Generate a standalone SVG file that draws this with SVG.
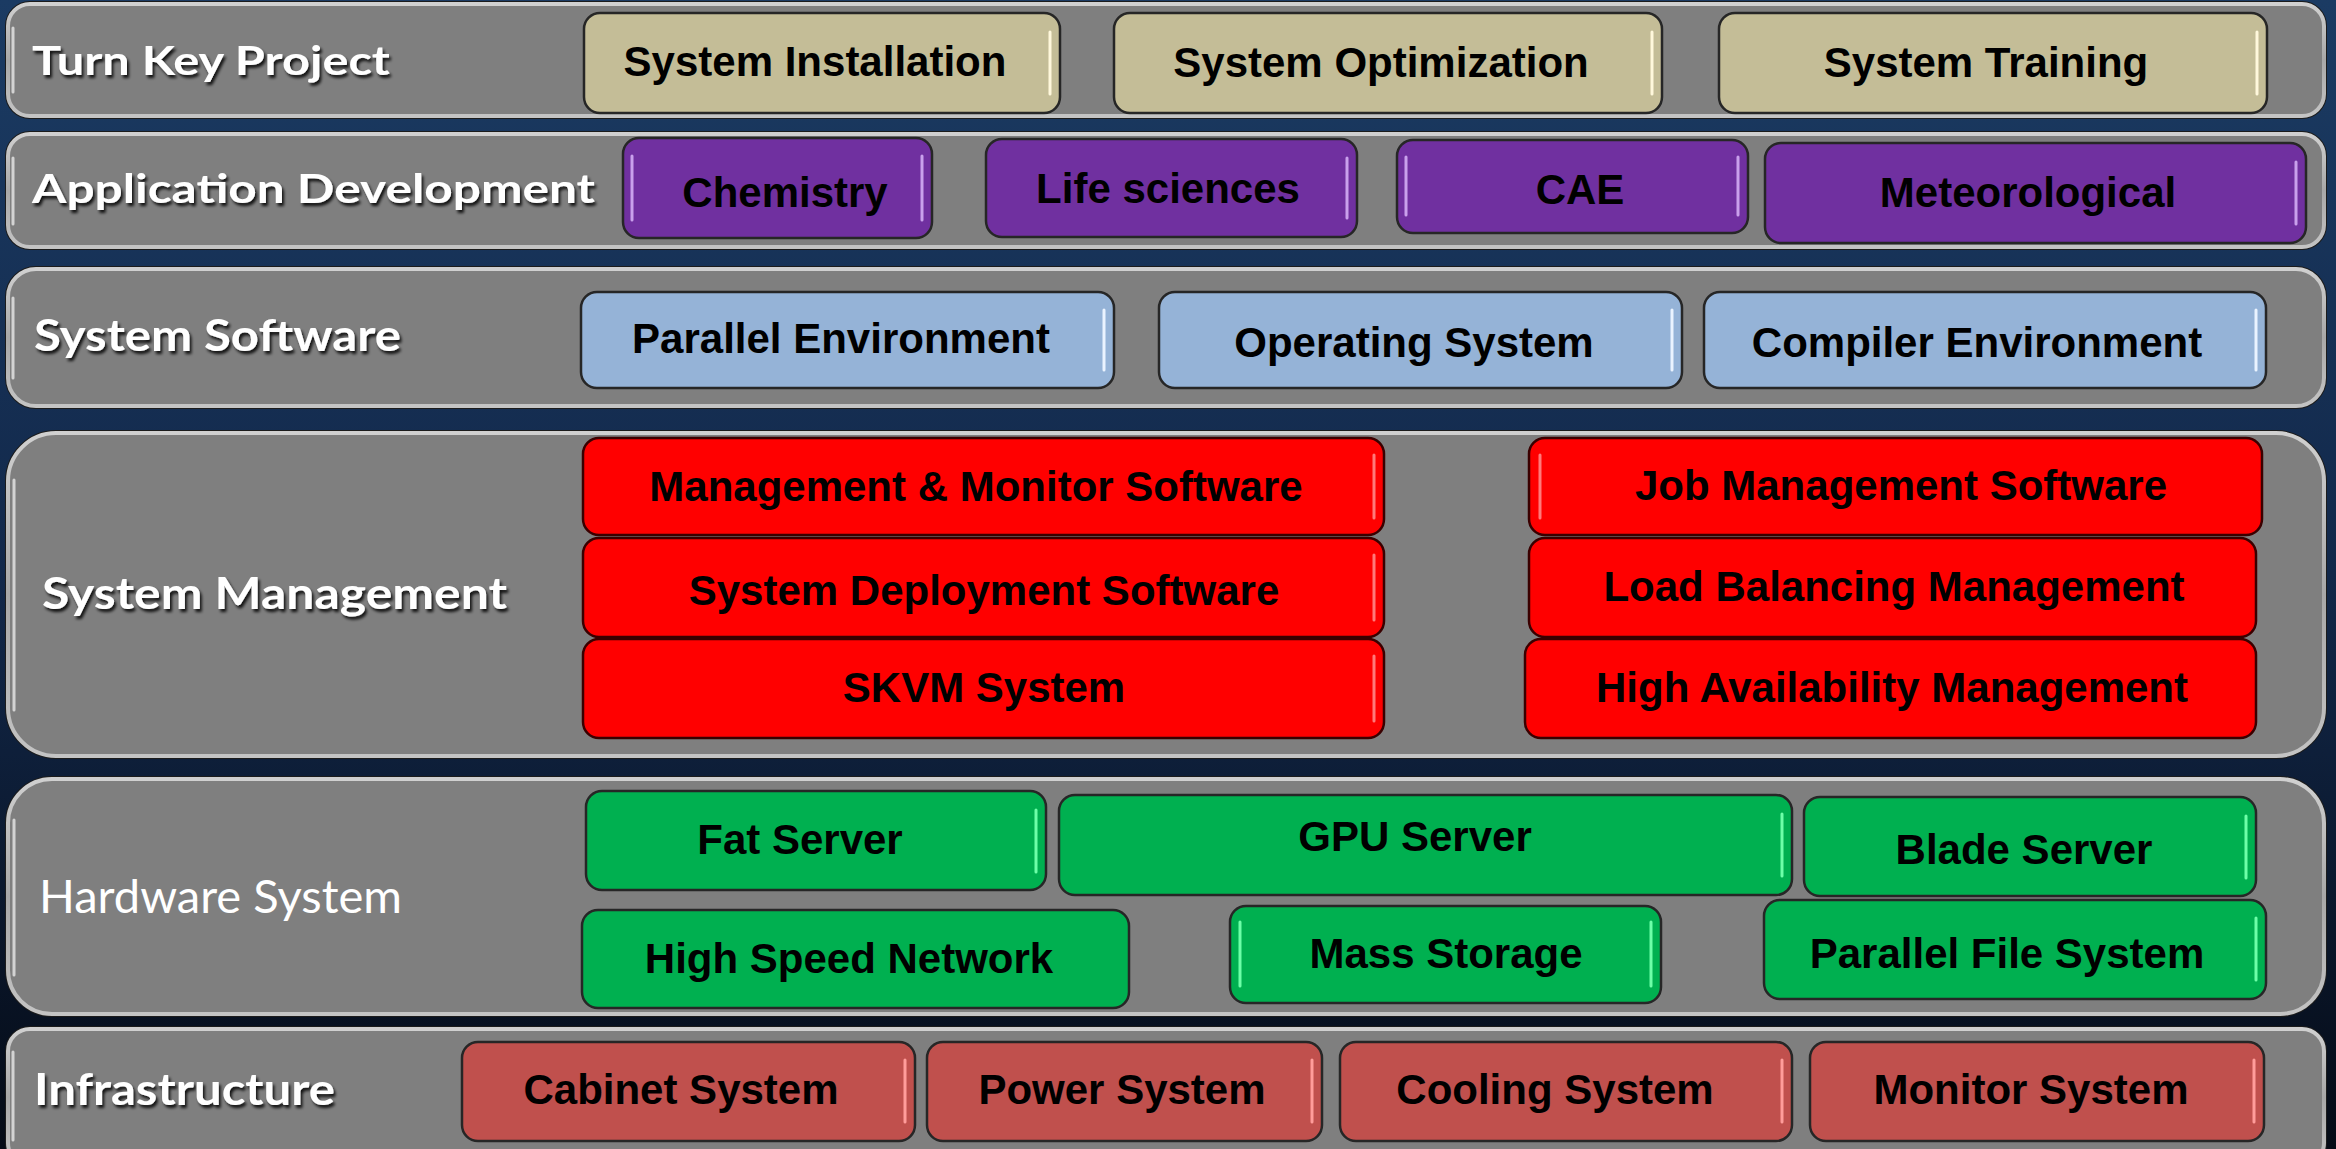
<svg xmlns="http://www.w3.org/2000/svg" width="2336" height="1149" viewBox="0 0 2336 1149">
<defs>
<linearGradient id="bg" x1="0" y1="0" x2="0" y2="1">
<stop offset="0" stop-color="#1b3b63"/>
<stop offset="0.5" stop-color="#12284a"/>
<stop offset="1" stop-color="#050b16"/>
</linearGradient>
<linearGradient id="rim" x1="0" y1="0" x2="0" y2="1">
<stop offset="0" stop-color="#d0d0d0"/>
<stop offset="0.5" stop-color="#a8a8a8"/>
<stop offset="1" stop-color="#c4c4c4"/>
</linearGradient>
<filter id="sh" x="-5%" y="-20%" width="110%" height="150%">
<feDropShadow dx="2" dy="3" stdDeviation="1.5" flood-color="#000" flood-opacity="0.85"/>
</filter>
</defs>
<style>
.band{fill:#7f7f7f;stroke:url(#rim);stroke-width:4}
.bandout{fill:none;stroke:#1c1c1c;stroke-width:2}
.bhl{fill:none;stroke:#e8e8e8;stroke-width:3;stroke-linecap:round;opacity:0.8}
.lbl{font-family:Lato,"Liberation Sans",sans-serif;font-weight:bold;fill:#fff;filter:url(#sh)}
.lblr{font-family:Lato,"Liberation Sans",sans-serif;font-weight:normal;fill:#fff}
.n{stroke:#262626;stroke-width:2.5}
.t{font-family:"Liberation Sans",Arial,sans-serif;font-weight:bold;font-size:42px;fill:#000;text-anchor:middle}
.tan{fill:#c4bd97}
.pur{fill:#7030a0}
.blu{fill:#95b3d7}
.red{fill:#ff0000;stroke:#3a0000}
.grn{fill:#00b050}
.mar{fill:#c0504d}
.hl{fill:none;stroke-width:3;stroke-linecap:round}
.hl-tan{stroke:#fff8dc}
.hl-pur{stroke:#c9a0ec}
.hl-blu{stroke:#eaf3ff}
.hl-red{stroke:#ff7a7a}
.hl-grn{stroke:#6dffa8}
.hl-mar{stroke:#ff9c9a}
</style>
<rect x="0" y="0" width="2336" height="1149" fill="url(#bg)"/>

<g id="bands">
<g id="band-turnkey">
<rect class="bandout" x="6" y="2" width="2320" height="116" rx="24"/>
<rect class="band" x="8" y="4" width="2316" height="112" rx="22"/>
<path class="bhl" d="M13 28 V92"/>
<text class="lbl" x="32" y="75" font-size="40" textLength="358" lengthAdjust="spacingAndGlyphs">Turn Key Project</text>
</g>
<g id="band-appdev">
<rect class="bandout" x="6" y="132" width="2320" height="117" rx="24"/>
<rect class="band" x="8" y="134" width="2316" height="113" rx="22"/>
<path class="bhl" d="M13 158 V224"/>
<text class="lbl" x="32" y="203" font-size="40" textLength="563" lengthAdjust="spacingAndGlyphs">Application Development</text>
</g>
<g id="band-syssoft">
<rect class="bandout" x="6" y="267" width="2320" height="141" rx="30"/>
<rect class="band" x="8" y="269" width="2316" height="137" rx="28"/>
<path class="bhl" d="M13 298 V378"/>
<text class="lbl" x="34" y="351" font-size="44" textLength="367" lengthAdjust="spacingAndGlyphs">System Software</text>
</g>
<g id="band-sysmgmt">
<rect class="bandout" x="6" y="431" width="2320" height="327" rx="50"/>
<rect class="band" x="8" y="433" width="2316" height="323" rx="48"/>
<path class="bhl" d="M14 480 V710"/>
<text class="lbl" x="42" y="609" font-size="44" textLength="465" lengthAdjust="spacingAndGlyphs">System Management</text>
</g>
<g id="band-hardware">
<rect class="bandout" x="6" y="777" width="2320" height="239" rx="46"/>
<rect class="band" x="8" y="779" width="2316" height="235" rx="44"/>
<path class="bhl" d="M14 820 V975"/>
<text class="lblr" x="39" y="913" font-size="46" textLength="363" lengthAdjust="spacingAndGlyphs">Hardware System</text>
</g>
<g id="band-infra">
<rect class="bandout" x="6" y="1027" width="2320" height="140" rx="24"/>
<rect class="band" x="8" y="1029" width="2316" height="136" rx="22"/>
<path class="bhl" d="M13 1052 V1140"/>
<text class="lbl" x="34" y="1105" font-size="44" textLength="301" lengthAdjust="spacingAndGlyphs">Infrastructure</text>
</g>
</g>

<g id="connectors"></g>

<g id="node-sys-install"><rect class="n tan" x="584" y="13" width="476" height="100" rx="16"/><path class="hl hl-tan" d="M1050 32 V94"/><text class="t" x="815" y="76">System Installation</text></g>
<g id="node-sys-opt"><rect class="n tan" x="1114" y="13" width="548" height="100" rx="16"/><path class="hl hl-tan" d="M1652 32 V94"/><text class="t" x="1381" y="77">System Optimization</text></g>
<g id="node-sys-train"><rect class="n tan" x="1719" y="13" width="548" height="100" rx="16"/><path class="hl hl-tan" d="M2257 32 V94"/><text class="t" x="1986" y="77">System Training</text></g>

<g id="node-chemistry"><rect class="n pur" x="623" y="138" width="309" height="100" rx="16"/><path class="hl hl-pur" d="M632 156 V220 M922 156 V220"/><text class="t" x="785" y="207">Chemistry</text></g>
<g id="node-life"><rect class="n pur" x="986" y="139" width="371" height="98" rx="16"/><path class="hl hl-pur" d="M1347 158 V218"/><text class="t" x="1168" y="203">Life sciences</text></g>
<g id="node-cae"><rect class="n pur" x="1397" y="140" width="351" height="93" rx="16"/><path class="hl hl-pur" d="M1406 157 V215 M1738 157 V215"/><text class="t" x="1580" y="204">CAE</text></g>
<g id="node-meteo"><rect class="n pur" x="1765" y="143" width="541" height="100" rx="16"/><path class="hl hl-pur" d="M2296 162 V224"/><text class="t" x="2028" y="207">Meteorological</text></g>

<g id="node-parallel-env"><rect class="n blu" x="581" y="292" width="533" height="96" rx="16"/><path class="hl hl-blu" d="M1104 310 V370"/><text class="t" x="841" y="353">Parallel Environment</text></g>
<g id="node-os"><rect class="n blu" x="1159" y="292" width="523" height="96" rx="16"/><path class="hl hl-blu" d="M1672 310 V370"/><text class="t" x="1414" y="357">Operating System</text></g>
<g id="node-compiler"><rect class="n blu" x="1704" y="292" width="562" height="96" rx="16"/><path class="hl hl-blu" d="M2256 310 V370"/><text class="t" x="1977" y="357">Compiler Environment</text></g>

<g id="node-mgmt-monitor"><rect class="n red" x="583" y="438" width="801" height="97" rx="16"/><path class="hl hl-red" d="M1374 455 V518"/><text class="t" x="976" y="501">Management &amp; Monitor Software</text></g>
<g id="node-sys-deploy"><rect class="n red" x="583" y="538" width="801" height="99" rx="16"/><path class="hl hl-red" d="M1374 555 V620"/><text class="t" x="984" y="605">System Deployment Software</text></g>
<g id="node-skvm"><rect class="n red" x="583" y="639" width="801" height="99" rx="16"/><path class="hl hl-red" d="M1374 656 V721"/><text class="t" x="984" y="702">SKVM System</text></g>
<g id="node-job"><rect class="n red" x="1529" y="438" width="733" height="97" rx="16"/><path class="hl hl-red" d="M1540 455 V518"/><text class="t" x="1901" y="500">Job Management Software</text></g>
<g id="node-load"><rect class="n red" x="1529" y="538" width="727" height="99" rx="16"/><text class="t" x="1894" y="601">Load Balancing Management</text></g>
<g id="node-ha"><rect class="n red" x="1525" y="639" width="731" height="99" rx="16"/><text class="t" x="1892" y="702">High Availability Management</text></g>

<g id="node-fat"><rect class="n grn" x="586" y="791" width="460" height="99" rx="16"/><path class="hl hl-grn" d="M1036 810 V872"/><text class="t" x="800" y="854">Fat Server</text></g>
<g id="node-gpu"><rect class="n grn" x="1059" y="795" width="733" height="100" rx="16"/><path class="hl hl-grn" d="M1782 814 V876"/><text class="t" x="1415" y="851">GPU Server</text></g>
<g id="node-blade"><rect class="n grn" x="1804" y="797" width="452" height="99" rx="16"/><path class="hl hl-grn" d="M2246 816 V878"/><text class="t" x="2024" y="864">Blade Server</text></g>
<g id="node-hsn"><rect class="n grn" x="582" y="910" width="547" height="98" rx="16"/><text class="t" x="849" y="973">High Speed Network</text></g>
<g id="node-mass"><rect class="n grn" x="1230" y="906" width="431" height="97" rx="16"/><path class="hl hl-grn" d="M1240 922 V986 M1651 922 V986"/><text class="t" x="1446" y="968">Mass Storage</text></g>
<g id="node-pfs"><rect class="n grn" x="1764" y="900" width="502" height="99" rx="16"/><path class="hl hl-grn" d="M2256 918 V980"/><text class="t" x="2007" y="968">Parallel File System</text></g>

<g id="node-cabinet"><rect class="n mar" x="462" y="1042" width="453" height="99" rx="16"/><path class="hl hl-mar" d="M905 1060 V1122"/><text class="t" x="681" y="1104">Cabinet System</text></g>
<g id="node-power"><rect class="n mar" x="927" y="1042" width="395" height="99" rx="16"/><path class="hl hl-mar" d="M1312 1060 V1122"/><text class="t" x="1122" y="1104">Power System</text></g>
<g id="node-cooling"><rect class="n mar" x="1340" y="1042" width="452" height="99" rx="16"/><path class="hl hl-mar" d="M1782 1060 V1122"/><text class="t" x="1555" y="1104">Cooling System</text></g>
<g id="node-monitor"><rect class="n mar" x="1810" y="1042" width="454" height="99" rx="16"/><path class="hl hl-mar" d="M2254 1060 V1122"/><text class="t" x="2031" y="1104">Monitor System</text></g>
</svg>
